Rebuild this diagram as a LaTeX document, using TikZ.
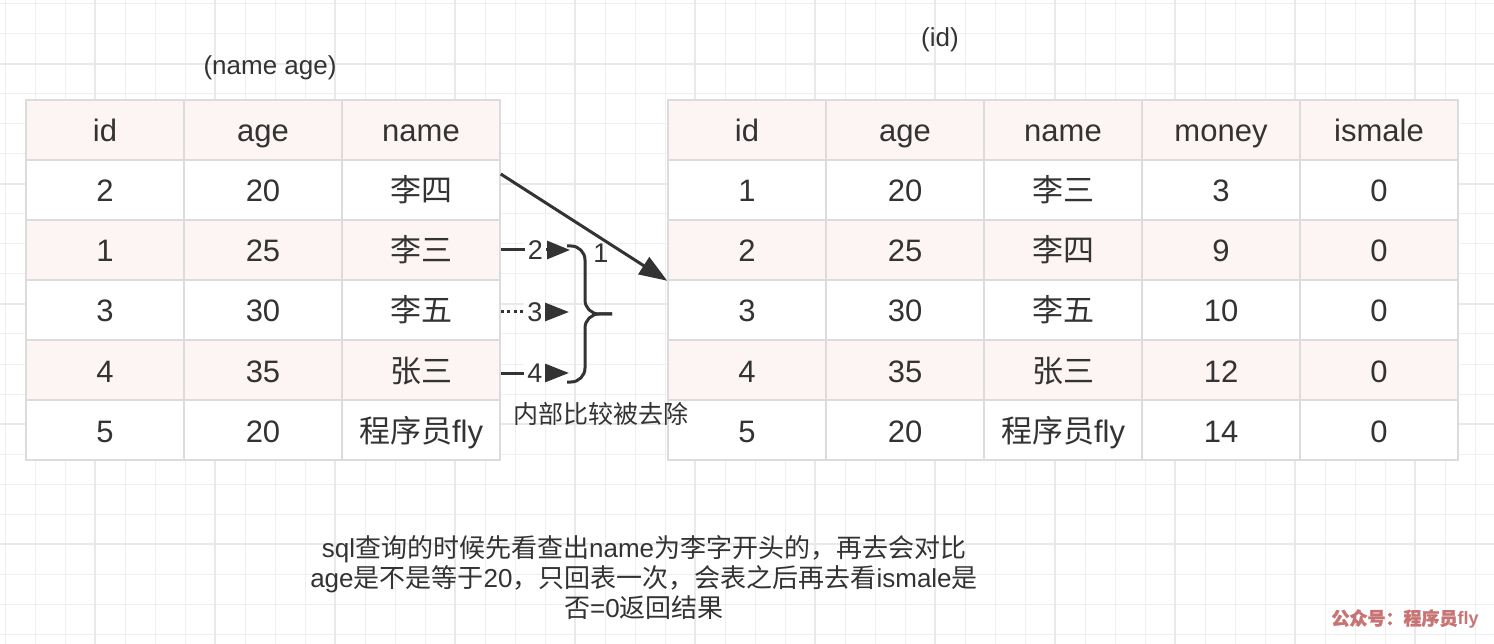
\documentclass[tikz,border=0pt]{standalone}
\usepackage{fontspec}
\setmainfont{Liberation Sans}
\newfontfamily\cjk{Noto Sans CJK SC}
\newfontfamily\cjkb[FakeBold=1.5]{Noto Sans CJK SC}
\usetikzlibrary{arrows.meta,calc}
\definecolor{ink}{HTML}{333333}
\definecolor{pinkfill}{HTML}{FDF5F4}
\definecolor{cellline}{HTML}{DCDCDC}
\definecolor{gridminor}{HTML}{EFEFEF}
\definecolor{gridmajor}{HTML}{E9E9E9}
\definecolor{markc}{HTML}{C97474}
\begin{document}
\begin{tikzpicture}[x=1pt,y=-1pt,
  cell/.style={draw=cellline, line width=1.5pt, minimum width=158pt, minimum height=60pt,
    inner sep=0pt, text height=24pt, text depth=0pt, text=ink, font=\fontsize{31}{36}\selectfont, anchor=center},
  conn/.style={draw=ink, line width=3pt},
  lab/.style={text=ink, font=\fontsize{27}{30}\selectfont},
  txt/.style={text=ink, font=\fontsize{26}{30}\selectfont, align=center}]
\useasboundingbox (0,0) rectangle (1494,644);
\fill[white] (0,0) rectangle (1494,644);
% grid
\foreach \i in {0,...,49} \draw[gridminor, line width=1pt] ({5+30*\i},0) -- ({5+30*\i},644);
\foreach \i in {0,...,21} \draw[gridminor, line width=1pt] (0,{4+30*\i}) -- (1494,{4+30*\i});
\foreach \i in {0,...,12} \draw[gridmajor, line width=1.5pt] ({95+120*\i},0) -- ({95+120*\i},644);
\foreach \i in {0,...,4} \draw[gridmajor, line width=1.5pt] (0,{64+120*\i}) -- (1494,{64+120*\i});
% left table
\foreach \r/\f/\a/\b/\c in {0/pinkfill/id/age/name,
  1/white/2/20/{{\cjk 李四}},
  2/pinkfill/1/25/{{\cjk 李三}},
  3/white/3/30/{{\cjk 李五}},
  4/pinkfill/4/35/{{\cjk 张三}},
  5/white/5/20/{{\cjk 程序员}fly}} {
  \node[cell, fill=\f] (L-\r-1) at (105,{130+60*\r}) {\a};
  \node[cell, fill=\f] (L-\r-2) at (263,{130+60*\r}) {\b};
  \node[cell, fill=\f] (L-\r-3) at (421,{130+60*\r}) {\c};
}
% right table
\foreach \r/\f/\a/\b/\c/\d/\e in {0/pinkfill/id/age/name/money/ismale,
  1/white/1/20/{{\cjk 李三}}/3/0,
  2/pinkfill/2/25/{{\cjk 李四}}/9/0,
  3/white/3/30/{{\cjk 李五}}/10/0,
  4/pinkfill/4/35/{{\cjk 张三}}/12/0,
  5/white/5/20/{{\cjk 程序员}fly}/14/0} {
  \node[cell, fill=\f] (R-\r-1) at (747,{130+60*\r}) {\a};
  \node[cell, fill=\f] (R-\r-2) at (905,{130+60*\r}) {\b};
  \node[cell, fill=\f] (R-\r-3) at (1063,{130+60*\r}) {\c};
  \node[cell, fill=\f] (R-\r-4) at (1221,{130+60*\r}) {\d};
  \node[cell, fill=\f] (R-\r-5) at (1379,{130+60*\r}) {\e};
}
% titles
\node[txt] (tl) at (270,68) {(name age)};
\node[txt] (tr) at (940,40) {(id)};
% big arrow
\draw[conn, -{Triangle[length=28pt,width=20pt]}] ($(L-1-3.east)+(0,-16)$) -- (R-2-1.south west);
\node[lab] (n1) at (601,253) {1};
% short arrows
\coordinate (t2) at (570,250);
\coordinate (t3) at (569,312);
\coordinate (t4) at (569,373);
\draw[conn, -{Triangle[length=23pt,width=18pt]}] (L-2-3.east) -- (t2)
  node[lab, midway, fill=white, inner xsep=3pt, inner ysep=1pt] (n2) {2};
\draw[conn, dash pattern=on 3pt off 3.5pt, -{Triangle[length=24pt,width=18pt]}] ($(L-3-3.east)+(0,2)$) -- (t3)
  node[lab, midway, fill=white, inner xsep=3pt, inner ysep=1pt] (n3) {3};
\draw[conn, -{Triangle[length=24pt,width=18pt]}] ($(L-4-3.east)+(0,3)$) -- (t4)
  node[lab, midway, fill=white, inner xsep=3pt, inner ysep=1pt] (n4) {4};
% brace
\draw[ink, line width=3pt, rounded corners=14pt] (567,246) -| (585,314) -- (612,314);
\draw[ink, line width=3pt, rounded corners=14pt] (567,382) -| (585,314) -- (612,314);
\node[txt, font=\fontsize{25}{30}\selectfont] (note) at (601,414) {\cjk 内部比较被去除};
% bottom text
\node[txt] (sql) at (644,578) {sql{\cjk 查询的时候先看查出}name{\cjk 为李字开头的，再去会对比}\\
  age{\cjk 是不是等于}20{\cjk ，只回表一次，会表之后再去看}ismale{\cjk 是}\\
  {\cjk 否}=0{\cjk 返回结果}};
% watermark
\node[text=markc, font=\fontsize{18}{20}\selectfont\bfseries] (wm) at (1405,619) {{\cjkb 公众号：程序员}fly};
\end{tikzpicture}
\end{document}
